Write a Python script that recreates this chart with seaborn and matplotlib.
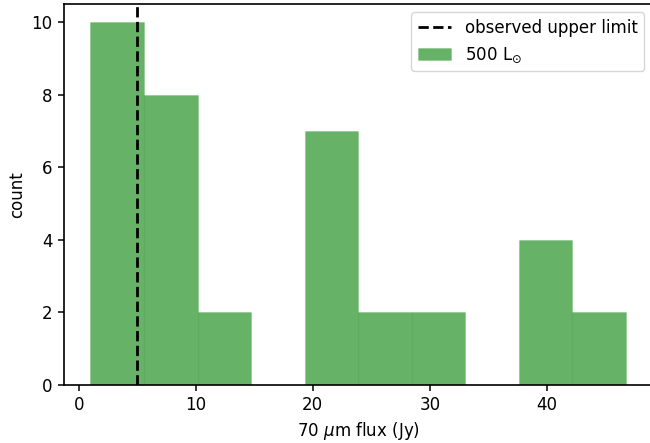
import numpy as np
import matplotlib
matplotlib.use("Agg")
import matplotlib.pyplot as plt
import seaborn as sns

bin_edges = [1.0, 5.575, 10.15, 14.725, 19.3, 23.875, 28.45, 33.025, 37.6, 42.175, 46.75]
bin_centers = [3.2875, 7.8625, 12.4375, 17.0125, 21.5875, 26.1625, 30.7375, 35.3125, 39.8875, 44.4625]
counts = [10, 8, 2, 0, 7, 2, 2, 0, 4, 2]
upper_limit = 5.0

sns.set_style("ticks", rc={'text.color': 'black', 'axes.labelcolor': 'black',
                           'xtick.color': 'black', 'ytick.color': 'black',
                           'axes.edgecolor': 'black'})
plt.rcParams['font.family'] = ['DejaVu Sans']
plt.rcParams['font.size'] = 12
plt.rcParams['xtick.major.size'] = 4.5
plt.rcParams['ytick.major.size'] = 4.5
plt.rcParams['xtick.major.width'] = 1.1
plt.rcParams['ytick.major.width'] = 1.1

fig, ax = plt.subplots(figsize=(6.5, 4.43), dpi=100)
sns.histplot(x=bin_centers, weights=counts, bins=bin_edges, color='g', alpha=0.6,
             edgecolor=(0, 0.45, 0, 0.12), linewidth=0.8, ax=ax, label=r'500 L$_{\odot}$')
ax.axvline(upper_limit, color='k', linestyle='--', linewidth=2, label='observed upper limit')
ax.set_xlabel(r'70 $\mu$m flux (Jy)', fontsize=12)
ax.set_ylabel('count', fontsize=12)
ax.tick_params(labelsize=12)
ax.margins(x=0.05)
ax.set_ylim(0, 10.5)
for s in ax.spines.values():
    s.set_visible(True)
    s.set_linewidth(1.2)
h, l = ax.get_legend_handles_labels()
order = [l.index('observed upper limit'), l.index(r'500 L$_{\odot}$')]
ax.legend([h[i] for i in order], [l[i] for i in order], loc='upper right', fontsize=12)
fig.subplots_adjust(left=0.098, right=1.004, top=0.991, bottom=0.131)
fig.savefig('out.png', dpi=100)
